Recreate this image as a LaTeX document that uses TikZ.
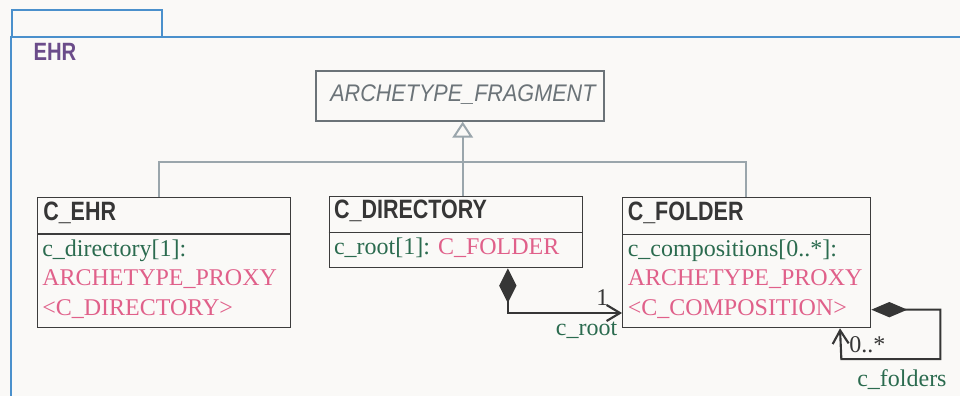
\documentclass[tikz,border=0pt]{standalone}
\usepackage{fontspec}
\setmainfont{Liberation Serif}
\newfontfamily\titlefont[FakeStretch=0.81]{Liberation Sans}
\newfontfamily\abstractfont[FakeStretch=0.9]{Liberation Sans}
\usetikzlibrary{arrows.meta, calc, positioning}

\definecolor{bgc}{HTML}{FAF9F7}
\definecolor{framec}{HTML}{4A90CC}
\definecolor{pkgc}{HTML}{6B4C8A}
\definecolor{boxline}{HTML}{3C3C3C}
\definecolor{ttlgray}{HTML}{363636}
\definecolor{fragline}{HTML}{6B7378}
\definecolor{genc}{HTML}{9AA6AC}
\definecolor{attrgreen}{HTML}{2B6B4F}
\definecolor{typepink}{HTML}{E0608A}

\begin{document}
\begin{tikzpicture}[x=0.75pt, y=-0.75pt,
    cls/.style = {draw=boxline, line width=1pt, fill=bgc, inner sep=0pt, anchor=north west},
    frag/.style = {draw=fragline, line width=1.3pt, fill=bgc, inner sep=0pt, anchor=north west},
    ttl/.style = {anchor=base west, inner sep=0pt, text=ttlgray, font=\titlefont\bfseries\fontsize{19.9}{24}\selectfont},
    abst/.style = {anchor=base west, inner sep=0pt, text=fragline, font=\abstractfont\itshape\fontsize{18}{22}\selectfont},
    attr/.style = {anchor=base west, inner sep=0pt, text=attrgreen, font=\fontsize{18}{22}\selectfont},
    typ/.style = {attr, text=typepink},
    mult/.style = {attr, text=ttlgray},
    gen/.style = {draw=genc, line width=1.5pt},
    comp/.style = {draw=ttlgray, line width=1.6pt},
    sepline/.style = {draw=boxline, line width=1pt},
    frame/.style = {draw=framec, line width=1.4pt}
]
    \fill[bgc] (0,0) rectangle (960,396);
    \useasboundingbox (0,0) rectangle (960,396);

    % package frame
    \draw[frame] (12,10) rectangle (162,36.7);
    \draw[frame] (11,400) -- (11,36.7) -- (965,36.7);
    \node[anchor=base west, inner sep=0pt, text=pkgc, font=\titlefont\bfseries\fontsize{18.75}{22}\selectfont] (pkg) at (33.3,60) {EHR};

    % abstract parent
    \node[frag, minimum width=216pt, minimum height=37.5pt] (frag) at (315,70) {};
    \node[abst] (fragname) at (330,101.7) {ARCHETYPE\_FRAGMENT};

    % classes
    \node[cls, minimum width=189.75pt, minimum height=97.5pt] (ehr) at (37,197) {};
    \draw[sepline] ([yshift=-27.75pt]ehr.north west) -- ([yshift=-27.75pt]ehr.north east);
    \node[ttl] (ehrname) at (43,220) {C\_EHR};
    \node[attr] (ehr1) at (42,256) {c\_directory[1]:};
    \node[typ] (ehr2) at (42,285.5) {ARCHETYPE\_PROXY};
    \node[typ] (ehr3) at (42,315) {<C\_DIRECTORY>};

    \node[cls, minimum width=189.75pt, minimum height=53.25pt] (dir) at (328.5,196) {};
    \draw[sepline] ([yshift=-27.5pt]dir.north west) -- ([yshift=-27.5pt]dir.north east);
    \node[ttl] (dirname) at (333.8,218.5) {C\_DIRECTORY};
    \node[attr] (dir1) at (333.8,254) {c\_root[1]: \textcolor{typepink}{C\_FOLDER}};

    \node[cls, minimum width=186pt, minimum height=97.5pt] (fld) at (622,197) {};
    \draw[sepline] ([yshift=-28pt]fld.north west) -- ([yshift=-28pt]fld.north east);
    \node[ttl] (fldname) at (627.5,220) {C\_FOLDER};
    \node[attr] (fld1) at (627.5,256) {c\_compositions[0..*]:};
    \node[typ] (fld2) at (627.5,285.5) {ARCHETYPE\_PROXY};
    \node[typ] (fld3) at (627.5,315) {<C\_COMPOSITION>};

    % inheritance
    \coordinate (g1) at (158.5,161.7);
    \coordinate (g2) at (462.7,161.7);
    \coordinate (g3) at (745.7,161.7);
    \draw[gen] (g1 |- ehr.north) -- (g1) -- (g3) -- (g3 |- fld.north);
    \draw[gen, -{Triangle[open, length=12pt, width=15.5pt]}] (g2 |- dir.north) -- (g2 |- frag.south);

    % compositions
    \draw[comp, {Diamond[length=26pt, width=13pt]}-{Straight Barb[length=10pt, width=12pt]}]
        ([xshift=134.5pt]dir.south west) |- ([yshift=11.5pt]fld.south west);
    \node[mult] (root1) at (596,305) {1};
    \node[attr] (rootname) at (555.7,335) {c\_root};

    \draw[comp, {Diamond[length=27pt, width=11.5pt]}-{Straight Barb[length=10pt, width=12pt]}]
        ([yshift=14pt]fld.south east) -- ++(69,0) -- ++(0,49.4) -- ++(-99,0) -- ([xshift=163.5pt]fld.south west);
    \node[mult] (fldmult) at (849,352.7) {0..*};
    \node[attr] (fldrole) at (857,386.7) {c\_folders};
\end{tikzpicture}
\end{document}
